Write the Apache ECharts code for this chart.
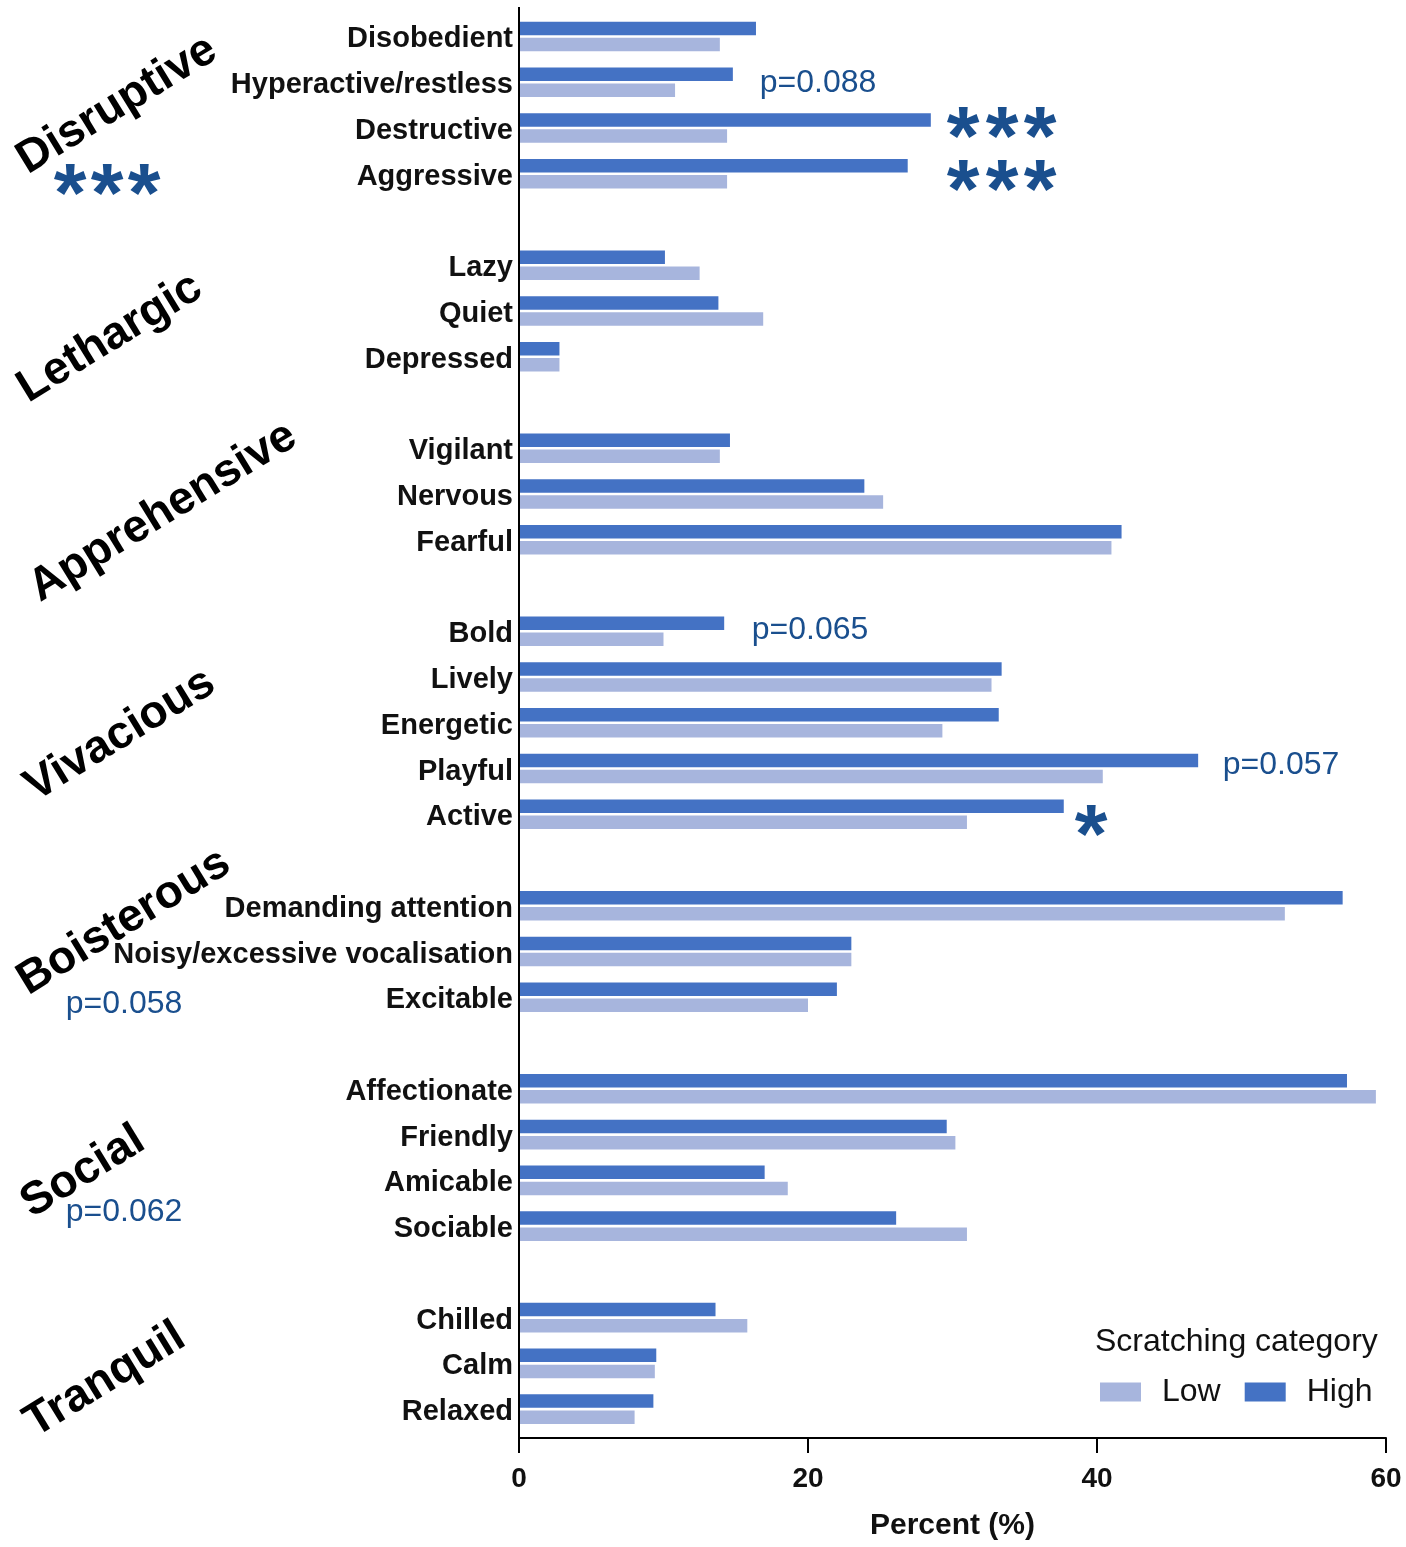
<!DOCTYPE html>
<html>
<head>
<meta charset="utf-8">
<script src="https://cdn.jsdelivr.net/npm/echarts@6/dist/echarts.min.js"></script>
<style>
html,body{margin:0;padding:0;background:#fff;}
#chart{width:1406px;height:1547px;}
</style>
</head>
<body>
<div id="chart"></div>
<script>
const categories = [
  'Disobedient','Hyperactive/restless','Destructive','Aggressive','',
  'Lazy','Quiet','Depressed','',
  'Vigilant','Nervous','Fearful','',
  'Bold','Lively','Energetic','Playful','Active','',
  'Demanding attention','Noisy/excessive vocalisation','Excitable','',
  'Affectionate','Friendly','Amicable','Sociable','',
  'Chilled','Calm','Relaxed'
];
const highValues = [
  16.4, 14.8, 28.5, 26.9, null,
  10.1, 13.8, 2.8, null,
  14.6, 23.9, 41.7, null,
  14.2, 33.4, 33.2, 47.0, 37.7, null,
  57.0, 23.0, 22.0, null,
  57.3, 29.6, 17.0, 26.1, null,
  13.6, 9.5, 9.3
];
const lowValues = [
  13.9, 10.8, 14.4, 14.4, null,
  12.5, 16.9, 2.8, null,
  13.9, 25.2, 41.0, null,
  10.0, 32.7, 29.3, 40.4, 31.0, null,
  53.0, 23.0, 20.0, null,
  59.3, 30.2, 18.6, 31.0, null,
  15.8, 9.4, 8.0
];
const xTicks = [0, 20, 40, 60];
const groupNames = ['Disruptive','Lethargic','Apprehensive','Vivacious','Boisterous','Social','Tranquil'];

const FONT = '"Liberation Sans", Arial, Helvetica, sans-serif';
const ANN = '#1a4f8e';
const chart = echarts.init(document.getElementById('chart'));

function txt(text, x, y, size, weight, fill, rot) {
  return {
    type: 'text', x: x, y: y, rotation: rot || 0, z: 100,
    style: {
      text: text, fontSize: size, fontWeight: weight, fontFamily: FONT, fill: fill,
      align: 'center', verticalAlign: 'middle', textAlign: 'center', textVerticalAlign: 'middle'
    }
  };
}
const R = 31.5 * Math.PI / 180;
const groupPos = [[117,105],[110,338],[163,512],[120,735],[124,922],[83,1172],[105,1380]];

const option = {
  backgroundColor: '#ffffff',
  animation: false,
  grid: { left: 519, right: 20, top: 13.6, bottom: 115 },
  title: {
    text: 'Scratching category',
    left: 1090, top: 1321,
    textStyle: { fontSize: 32, fontWeight: 'normal', color: '#111', fontFamily: FONT }
  },
  legend: {
    data: ['Low', 'High'],
    left: 1095, top: 1371,
    icon: 'rect', itemWidth: 41, itemHeight: 19, itemGap: 24,
    textStyle: { fontSize: 32, color: '#111', fontFamily: FONT, padding: [0, 0, 0, 16] }
  },
  xAxis: {
    type: 'value', min: 0, max: 60, interval: 20, offset: 6,
    axisLine: { show: true, lineStyle: { color: '#000', width: 2 } },
    axisTick: { show: true, length: 15, inside: false, lineStyle: { color: '#000', width: 2 } },
    splitLine: { show: false },
    axisLabel: {
      fontSize: 28, fontWeight: 'bold', color: '#111', fontFamily: FONT, margin: 27,
      formatter: function (v) { return xTicks.indexOf(v) >= 0 ? String(v) : ''; }
    },
    name: 'Percent (%)', nameLocation: 'middle', nameGap: 73,
    nameTextStyle: { fontSize: 30, fontWeight: 'bold', color: '#111', fontFamily: FONT }
  },
  yAxis: {
    type: 'category', inverse: true, data: categories,
    axisLine: { show: false },
    axisTick: { show: false },
    axisLabel: {
      interval: 0, margin: 6,
      formatter: function (v) { return v ? '{l|' + v + '}' : ''; },
      rich: {
        l: { fontSize: 29, fontWeight: 'bold', color: '#111', fontFamily: FONT, padding: [6, 0, 0, 0] }
      }
    }
  },
  series: [
    {
      name: 'High', type: 'bar', data: highValues, barWidth: 13.5, barGap: '19%',
      itemStyle: { color: '#4472c4' }
    },
    {
      name: 'Low', type: 'bar', data: lowValues, barWidth: 13.5, barGap: '19%',
      itemStyle: { color: '#a7b5dd' }
    }
  ],
  graphic: []
};
chart.setOption(option);

const x0 = chart.convertToPixel({ xAxisIndex: 0 }, 0);
const gr = [];
gr.push({ type: 'line', z: 50, shape: { x1: x0, y1: 7, x2: x0, y2: 1438 }, style: { stroke: '#000', lineWidth: 2 } });
groupNames.forEach(function (g, i) {
  gr.push(txt(g, groupPos[i][0], groupPos[i][1], 46, 'bold', '#000', R));
});
function stars(xs, y) {
  xs.forEach(function (x) { gr.push(txt('*', x, y, 84, 'bold', ANN)); });
}
stars([70, 107, 144], 199);
stars([963, 1002, 1040], 142);
stars([963, 1002, 1040], 195);
stars([1091], 840);
gr.push(txt('p=0.088', 818, 83, 32, 'normal', ANN));
gr.push(txt('p=0.065', 810, 630, 32, 'normal', ANN));
gr.push(txt('p=0.057', 1281, 765, 32, 'normal', ANN));
gr.push(txt('p=0.058', 124, 1004, 32, 'normal', ANN));
gr.push(txt('p=0.062', 124, 1212, 32, 'normal', ANN));
chart.setOption({ graphic: gr });
</script>
</body>
</html>
